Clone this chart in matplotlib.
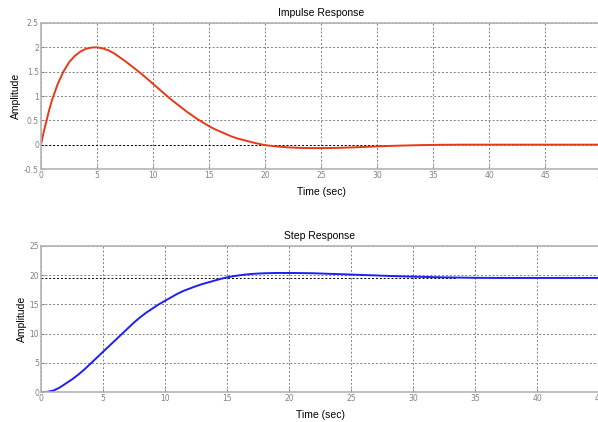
import matplotlib
matplotlib.use("Agg")
import numpy as np
from matplotlib import pyplot as plt

# values
impulse_t = [0, 0.25, 0.5, 0.75, 1, 1.5, 2, 2.5, 3, 3.5, 4, 4.5, 5, 5.5, 6, 6.5, 7,
             7.5, 8, 8.5, 9, 9.5, 10, 10.5, 11, 11.5, 12, 12.5, 13, 13.5, 14, 14.5,
             15, 15.5, 16, 16.5, 17, 17.5, 18, 18.5, 19, 19.5, 20, 21, 22, 23, 24,
             25, 26, 27, 28, 29, 30, 31, 32, 33, 34, 35, 36, 38, 50]
impulse_y = [0, 0.27, 0.5, 0.73, 0.93, 1.25, 1.5, 1.69, 1.82, 1.91, 1.97, 1.995, 2.0,
             1.98, 1.94, 1.88, 1.8, 1.72, 1.63, 1.54, 1.45, 1.35, 1.25, 1.15, 1.05,
             0.95, 0.86, 0.77, 0.68, 0.6, 0.52, 0.45, 0.38, 0.32, 0.27, 0.22, 0.17,
             0.13, 0.1, 0.07, 0.04, 0.015, -0.01, -0.035, -0.055, -0.065, -0.07,
             -0.07, -0.068, -0.062, -0.055, -0.045, -0.035, -0.027, -0.02, -0.014,
             -0.009, -0.005, -0.002, 0.0, 0.0]

step_t = [0, 0.5, 1, 1.5, 2, 2.5, 3, 3.5, 4, 4.5, 5, 5.5, 6, 6.5, 7, 7.5, 8, 8.5, 9,
          9.5, 10, 10.5, 11, 11.5, 12, 12.5, 13, 13.5, 14, 14.5, 15, 15.5, 16, 16.5,
          17, 17.5, 18, 19, 20, 21, 22, 23, 24, 25, 26, 27, 28, 29, 30, 31, 32, 33,
          34, 35, 37, 45]
step_y = [0, 0.08, 0.3, 0.8, 1.5, 2.2, 3.0, 3.9, 4.9, 5.9, 6.9, 7.9, 8.9, 9.9, 10.9,
          11.9, 12.8, 13.6, 14.3, 15.0, 15.6, 16.2, 16.8, 17.3, 17.7, 18.1, 18.45,
          18.75, 19.05, 19.35, 19.6, 19.8, 19.95, 20.08, 20.18, 20.25, 20.3, 20.35,
          20.35, 20.33, 20.3, 20.22, 20.15, 20.08, 20.0, 19.93, 19.85, 19.78, 19.72,
          19.67, 19.62, 19.58, 19.55, 19.52, 19.5, 19.5]

impulse_final = 0.0
step_final = 19.5
final_end = 33.5

impulse_xticks = [0, 5, 10, 15, 20, 25, 30, 35, 40, 45, 50]
impulse_yticks = [-0.5, 0, 0.5, 1, 1.5, 2, 2.5]
step_xticks = [0, 5, 10, 15, 20, 25, 30, 35, 40, 45]
step_yticks = [0, 5, 10, 15, 20, 25]

W, H = 598, 422
fig = plt.figure(figsize=(W / 100, H / 100), dpi=100)
fig.patch.set_facecolor("white")

spine_color = "#b4b4b4"
tick_color = "#808080"


def style_axes(ax, xticks, yticks, xlim, ylim, title):
    ax.set_xlim(*xlim)
    ax.set_ylim(*ylim)
    ax.set_xticks(xticks)
    ax.set_yticks(yticks)
    ax.set_xticklabels([f"{v:g}" for v in xticks])
    ax.set_yticklabels([f"{v:g}" for v in yticks])
    ax.grid(True, color="#808080", linestyle=(0, (2, 2)), linewidth=0.7)
    for s in ax.spines.values():
        s.set_color(spine_color)
        s.set_linewidth(1.2)
    ax.tick_params(axis="both", colors=tick_color, labelsize=5.5, length=2,
                   direction="in", pad=1.5)
    ax.set_title(title, fontsize=7.5, pad=5, family="Liberation Sans")
    ax.set_xlabel("Time (sec)", fontsize=7.5, labelpad=5, family="Liberation Sans")
    ax.set_ylabel("Amplitude", fontsize=7.5, labelpad=2, family="Liberation Sans")


# upper panel: impulse response
ax1 = fig.add_axes([41 / W, (H - 169) / H, 560 / W, 146 / H])
style_axes(ax1, impulse_xticks, impulse_yticks, (0, 50), (-0.5, 2.5), "Impulse Response")
ax1.plot([0, final_end], [impulse_final, impulse_final], color="black",
         linestyle=(0, (2, 2)), linewidth=0.7)
ax1.plot(impulse_t, impulse_y, color="#e5391a", linewidth=1.4)

# lower panel: step response
ax2 = fig.add_axes([41 / W, (H - 392.3) / H, 558 / W, 146.6 / H])
style_axes(ax2, step_xticks, step_yticks, (0, 45), (0, 25), "Step Response")
ax2.plot([0, final_end], [step_final, step_final], color="black",
         linestyle=(0, (2, 2)), linewidth=0.7)
ax2.plot(step_t, step_y, color="#1f1ff0", linewidth=1.4)

fig.savefig("out.png", dpi=100)
